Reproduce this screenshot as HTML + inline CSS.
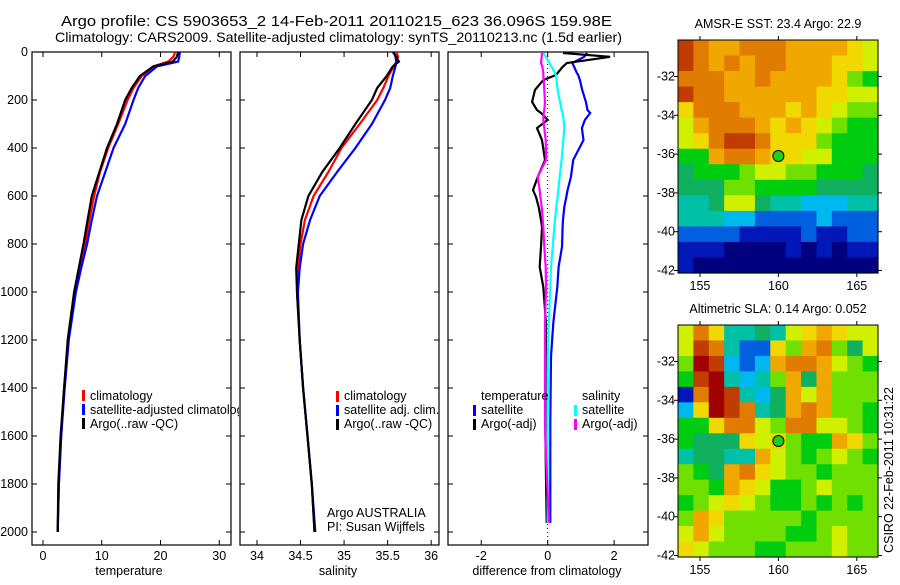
<!DOCTYPE html>
<html><head><meta charset="utf-8"><style>
body{margin:0;background:#fff;}
svg text{font-family:"Liberation Sans",Arial,sans-serif;font-size:12.5px;fill:#000;}
</style></head><body>
<svg id="fig" width="900" height="580" viewBox="0 0 900 580" xmlns="http://www.w3.org/2000/svg">
<rect width="900" height="580" fill="#fff"/>
<text x="61" y="26" textLength="551" lengthAdjust="spacingAndGlyphs" style="font-size:14.5px">Argo profile: CS 5903653_2 14-Feb-2011 20110215_623 36.096S 159.98E</text>
<text x="55" y="42" textLength="567" lengthAdjust="spacingAndGlyphs" style="font-size:14px">Climatology: CARS2009. Satellite-adjusted climatology: synTS_20110213.nc (1.5d earlier)</text>
<g id="g"></g>
</svg>
<script>
// ---- profile data ----
const depths=[0,20,40,60,100,150,200,300,400,500,600,700,800,900,1000,1200,1400,1600,1800,2000];
const tempClim=[22.5,22.2,21.3,18.8,16.8,15.4,14.4,12.8,11.1,9.7,8.7,7.9,7.2,6.3,5.5,4.3,3.6,3.1,2.7,2.5];
const tempSat=[23.3,23.2,23.0,19.4,17.4,16.2,15.4,14.0,12.0,10.6,9.2,8.3,7.5,6.5,5.6,4.4,3.7,3.1,2.7,2.5];
const tempArgo=[23.0,22.8,22.1,18.8,16.5,15.1,14.0,12.6,10.9,9.6,8.3,7.6,6.9,6.1,5.3,4.2,3.6,3.0,2.6,2.5];
const salClim=[35.60,35.62,35.60,35.57,35.51,35.45,35.38,35.18,34.97,34.82,34.65,34.55,34.50,34.47,34.46,34.49,34.53,34.58,34.63,34.66];
const salSat=[35.57,35.59,35.60,35.59,35.56,35.53,35.47,35.32,35.13,34.92,34.72,34.61,34.53,34.49,34.47,34.49,34.53,34.58,34.63,34.67];
const salArgo=[35.56,35.60,35.63,35.56,35.49,35.38,35.32,35.13,34.95,34.75,34.59,34.51,34.48,34.45,34.46,34.49,34.53,34.58,34.63,34.66];
const diffDepths=[4,20,46,62,88,96,117,158,208,242,254,283,317,367,450,521,575,604,646,700,729,812,896,979,1129,1270,1546,1687,1962];
const dTempSat=[1.19,1.1,0.74,0.8,0.88,0.92,0.97,1.04,1.15,1.2,1.28,1.12,1.03,1.08,0.77,0.7,0.6,0.56,0.5,0.46,0.45,0.43,0.33,0.29,0.17,0.1,0.08,0.08,0.08];
const dTempArgo=[0.46,1.88,0.58,0.45,0.3,0.25,-0.13,-0.38,-0.47,-0.32,-0.2,0.0,-0.32,-0.17,-0.08,-0.3,-0.44,-0.35,-0.27,-0.2,-0.17,-0.2,-0.24,-0.13,-0.05,-0.06,-0.07,-0.06,-0.03];
const dSalSat=[-0.14,-0.05,0.05,0.12,0.22,0.25,0.27,0.3,0.37,0.42,0.45,0.48,0.5,0.47,0.42,0.36,0.32,0.3,0.26,0.22,0.2,0.15,0.1,0.08,0.03,0.01,0.0,0.0,0.0];
const dSalArgo=[-0.17,-0.18,-0.2,-0.16,-0.13,-0.13,-0.12,-0.1,-0.08,-0.1,-0.12,-0.13,-0.1,-0.06,-0.05,-0.3,-0.24,-0.22,-0.18,-0.15,-0.13,-0.1,-0.06,-0.05,-0.08,-0.08,-0.08,-0.05,0.04];
const depthTicks=[0,200,400,600,800,1000,1200,1400,1600,1800,2000];
const tempTicks=[0,10,20,30];
const salTicks=[34,34.5,35,35.5,36];
const diffTicks=[-2,0,2];
// ---- map data (codes into palette) ----
const sstGrid=["cbaabbbaaaa98","cbababbaaa998","bbbaabaaaa976","cbbaaaaaa9988","9bbbaaa9a9877","8abbba9a98766","89bccb9997666","66abba9988666","5666788776665","5557766665555","4458854433344","4443322223222","2222111121122","1110000101011","1000000000000"];
const slaGrid=["8b9445489a988","8cb42297ab758","7dc323abba876","6cd4347a5a777","1bdc435a8a777","39dcb45aba776","669bb87bb8876","6555989766a97","45544a8767876","765ab98776777","776a986678777","6789876676767","7a97777767777","8a87777667877","9877766777877"];
const palette=["#00007f","#0018b8","#0060e0","#00b8f0","#00c0a8","#10b060","#00cc10","#70e000","#d0f000","#f0d800","#f0a800","#e07c00","#c03c00","#a00000"];
const latTicks=[-32,-34,-36,-38,-40,-42];
const lonTicks=[155,160,165];
const argoLon=160, argoLat=-36.1;

const NS="http://www.w3.org/2000/svg";
const G=document.getElementById('g');
function mk(tag,attrs,parent){const e=document.createElementNS(NS,tag);for(const k in attrs)e.setAttribute(k,attrs[k]);(parent||G).appendChild(e);return e;}
const PT=52,PB=545,DPX=0.24;
const yD=d=>PT+d*DPX;
function axis(x0,x1,xmin,xmax){return v=>x0+(v-xmin)/(xmax-xmin)*(x1-x0);}
const xT=axis(32,231,-1.87,32), xS=axis(240,439,33.805,36.09), xDf=axis(448,648,-3,3.02);

function panel(x0,x1,xf,ticks,name,label,lx){
  const b=mk('rect',{x:x0,y:PT,width:x1-x0,height:PB-PT,fill:'none',stroke:'#000','stroke-width':1.2});
  
  
  depthTicks.forEach(d=>{const y=yD(d);
    mk('line',{x1:x0,x2:x0+5,y1:y,y2:y,stroke:'#000'});mk('line',{x1:x1-5,x2:x1,y1:y,y2:y,stroke:'#000'});});
  ticks.forEach(v=>{const x=xf(v);
    mk('line',{x1:x,x2:x,y1:PT,y2:PT+5,stroke:'#000'});mk('line',{x1:x,x2:x,y1:PB-5,y2:PB,stroke:'#000'});
    const t=mk('text',{x:x,y:560,'text-anchor':'middle'});t.textContent=String(v);
    
    });
  const t=mk('text',{x:lx,y:575,'text-anchor':'middle'});t.textContent=label;
  
  
}
function line(xs,ds,xf,color,name){
  const p=mk('polyline',{points:xs.map((v,i)=>xf(v).toFixed(1)+','+yD(ds[i]).toFixed(1)).join(' '),fill:'none',stroke:color,'stroke-width':2.2});
  
  
}
function legend(x,y,color,text,name){
  if(color)mk('rect',{x:x,y:y-9,width:3,height:11,fill:color});
  const t=mk('text',{x:x+8,y:y});t.textContent=text;
  
  
}
depthTicks.forEach(d=>{const t=mk('text',{x:28,y:yD(d)+4,'text-anchor':'end'});t.textContent=String(d);
  
  });

panel(32,231,xT,tempTicks,'temperature-panel','temperature',129);
line(tempClim,depths,xT,'#ff0000','temp-climatology-line');
line(tempSat,depths,xT,'#0000ff','temp-satellite-line');
line(tempArgo,depths,xT,'#000000','temp-argo-line');
const clip=mk('clipPath',{id:'c1'});mk('rect',{x:0,y:0,width:239,height:580},clip);
const lg1=mk('g',{'clip-path':'url(#c1)'});
[['#ff0000','climatology'],['#0000ff','satellite-adjusted climatology'],['#000','Argo(..raw -QC)']].forEach((e,i)=>{
  mk('rect',{x:82,y:390+i*14,width:3,height:11,fill:e[0]},lg1);
  const t=mk('text',{x:90,y:400+i*14},lg1);t.textContent=e[1];
  
  });

panel(240,439,xS,salTicks,'salinity-panel','salinity',338);
line(salClim,depths,xS,'#ff0000','sal-climatology-line');
line(salSat,depths,xS,'#0000ff','sal-satellite-line');
line(salArgo,depths,xS,'#000000','sal-argo-line');
legend(336,400,'#ff0000','climatology','sal-legend-climatology');
legend(336,414,'#0000ff','satellite adj. clim.','sal-legend-satellite');
legend(336,428,'#000','Argo(..raw -QC)','sal-legend-argo');
legend(319,517,null,'Argo AUSTRALIA','credit-argo-australia');
legend(319,531,null,'PI: Susan Wijffels','credit-pi');

panel(448,648,xDf,diffTicks,'difference-panel','difference from climatology',547);
mk('line',{x1:xDf(0),x2:xDf(0),y1:PT,y2:PB,stroke:'#000','stroke-dasharray':'1,3'});
line(dTempSat,diffDepths,xDf,'#0000ff','diff-temp-satellite-line');
line(dTempArgo,diffDepths,xDf,'#000000','diff-temp-argo-line');
line(dSalSat,diffDepths,xDf,'#00ffff','diff-sal-satellite-line');
line(dSalArgo,diffDepths,xDf,'#ff00ff','diff-sal-argo-line');
legend(473,400,null,'temperature','diff-legend-temperature');
legend(473,414,'#0000ff','satellite','diff-legend-temp-satellite');
legend(473,428,'#000','Argo(-adj)','diff-legend-temp-argo');
legend(574,400,null,'salinity','diff-legend-salinity');
legend(574,414,'#00ffff','satellite','diff-legend-sal-satellite');
legend(574,428,'#ff00ff','Argo(-adj)','diff-legend-sal-argo');

function map(grid,y0,y1,title,name){
  const x0=678,x1=878,lonMin=153.6,lonMax=166.35;
  const lx=v=>x0+(v-lonMin)/(lonMax-lonMin)*(x1-x0);
  const ly=v=>y0+36.5+(-32-v)*19.4;
  const rows=grid.length,cols=grid[0].length,cw=(x1-x0)/cols,ch=(y1-y0)/rows;
  grid.forEach((r,i)=>{for(let j=0;j<cols;j++){
    const c=mk('rect',{x:x0+j*cw,y:y0+i*ch,width:cw+0.6,height:ch+0.6,fill:palette[parseInt(r[j],16)]});
    
    }});
  const f=mk('rect',{x:x0,y:y0,width:x1-x0,height:y1-y0,fill:'none',stroke:'#000'});
  
  
  latTicks.forEach(v=>{const y=ly(v);mk('line',{x1:x0-4,x2:x0,y1:y,y2:y,stroke:'#000'});mk('line',{x1:x1,x2:x1+4,y1:y,y2:y,stroke:'#000'});
    const t=mk('text',{x:675,y:y+4,'text-anchor':'end'});t.textContent=String(v);
    
    });
  lonTicks.forEach(v=>{const x=lx(v);mk('line',{x1:x,x2:x,y1:y0-4,y2:y0,stroke:'#000'});mk('line',{x1:x,x2:x,y1:y1,y2:y1+4,stroke:'#000'});
    const t=mk('text',{x:x,y:y1+17,'text-anchor':'middle'});t.textContent=String(v);
    
    });
  const c=mk('circle',{cx:lx(argoLon),cy:ly(argoLat),r:5.5,fill:'#20d020',stroke:'#000'});
  
  
  const t=mk('text',{x:778,y:y0-12,'text-anchor':'middle'});t.textContent=title;
  
  
}
map(sstGrid,40,273,'AMSR-E SST: 23.4  Argo: 22.9','sst-map');
map(slaGrid,325,557,'Altimetric SLA: 0.14  Argo: 0.052','sla-map');
const st=mk('text',{x:893,y:470,'text-anchor':'middle',transform:'rotate(-90 893 470)'});
st.textContent='CSIRO 22-Feb-2011 10:31:22';


</script>
</body></html>
